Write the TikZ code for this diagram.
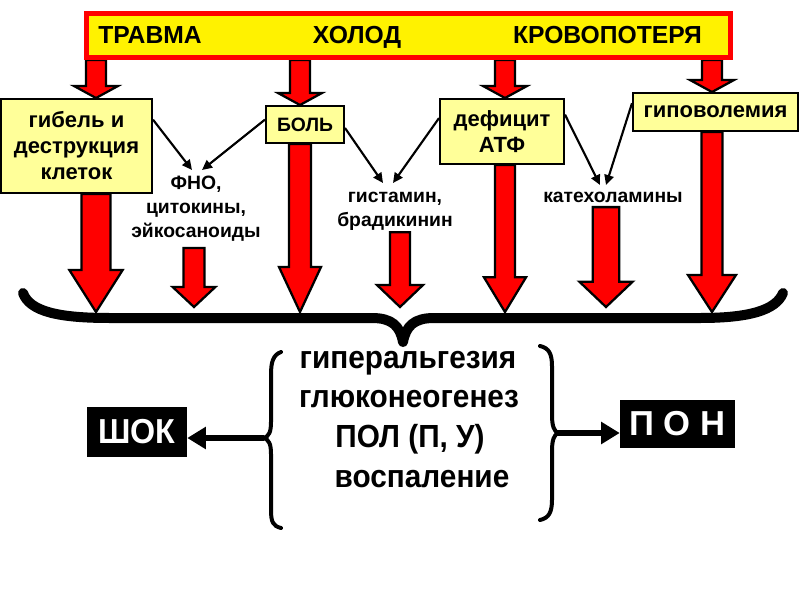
\documentclass[tikz,border=0pt]{standalone}
\usepackage{fontspec}
\setmainfont{Liberation Sans}
\newfontfamily\narrowfont{Liberation Sans}[FakeStretch=0.93]
\usetikzlibrary{arrows.meta,calc,backgrounds}
\definecolor{paleyellow}{RGB}{255,255,153}

% block arrow: shaft half width, head half width, head length, from, to
\newcommand{\redarrow}[5]{%
  \filldraw[redarrow] let \p1=(#4), \p2=(#5) in
    (\x2-#1,\y1) -- (\x2-#1,\y2+#3) -- (\x2-#2,\y2+#3) -- (\x2,\y2)
    -- (\x2+#2,\y2+#3) -- (\x2+#1,\y2+#3) -- (\x2+#1,\y1) -- cycle;}

\begin{document}
\begin{tikzpicture}[x=0.75pt, y=-0.75pt,
  topbox/.style={draw=red, line width=3.75pt, fill=yellow,
    minimum width=483pt, minimum height=33pt},
  toptext/.style={font=\fontsize{18.5}{21}\selectfont\bfseries, inner sep=0pt},
  causebox/.style={draw=black, line width=1.5pt, fill=paleyellow, align=center,
    inner sep=0pt, font=\fontsize{16.5}{19.5}\selectfont\bfseries},
  mediator/.style={align=center, inner sep=0pt,
    font=\fontsize{14.5}{18}\selectfont\bfseries},
  effect/.style={inner sep=0pt, font=\narrowfont\fontsize{24}{30}\selectfont\bfseries},
  resultbox/.style={fill=black, text=white, inner sep=0pt},
  redarrow/.style={fill=red, draw=black, line width=1.7pt, line join=miter},
  thinarrow/.style={-{Triangle[length=7.5pt,width=7pt]}, line width=1.6pt},
  thickarrow/.style={-{Triangle[length=14pt,width=16pt]}, line width=4pt},
  bracket/.style={line cap=round, line join=round}]
  \useasboundingbox (0,0) rectangle (800,600);

  % causes
  \node[topbox] (top) at (408.5,35.5) {};
  \node[toptext, anchor=base] (trauma) at (150,43) {ТРАВМА};
  \node[toptext, anchor=base] (cold) at (357,43) {ХОЛОД};
  \node[toptext, anchor=base] (blood) at (607.5,43) {КРОВОПОТЕРЯ};

  \node[causebox, minimum width=113.25pt, minimum height=70.5pt] (death) at (76.5,146)
    {гибель и\\деструкция\\клеток};
  \node[causebox, minimum width=58.5pt, minimum height=27.75pt,
    font=\fontsize{14.5}{17}\selectfont\bfseries] (pain) at (305,124.5) {БОЛЬ};
  \node[causebox, minimum width=93pt, minimum height=48.75pt] (atp) at (502,131.5)
    {дефицит\\АТФ};
  \node[causebox, minimum width=123.75pt, minimum height=28.5pt] (hypo) at (715.5,112)
    {гиповолемия};

  % mediators
  \node[mediator, anchor=north] (cyto) at (196,176) {ФНО,\\цитокины,\\эйкосаноиды};
  \node[mediator, anchor=north] (hist) at (395,192) {гистамин,\\брадикинин};
  \node[mediator, anchor=north] (cat) at (613,192) {катехоламины};

  \coordinate (c1) at (96,0);
  \coordinate (c2) at (300,0);
  \coordinate (c3) at (505,0);
  \coordinate (c4) at (712,0);
  \coordinate (c5) at (194,0);
  \coordinate (c6) at (400,0);
  \coordinate (c7) at (606,0);
  \coordinate (tipl) at (0,312);
  \coordinate (tips) at (0,307);

  \begin{scope}[on background layer]
    \redarrow{7.5pt}{16.5pt}{9pt}{top.south -| c1}{death.north -| c1}
    \redarrow{7.5pt}{16.5pt}{9pt}{top.south -| c2}{pain.north -| c2}
    \redarrow{7.5pt}{16.5pt}{9pt}{top.south -| c3}{atp.north -| c3}
    \redarrow{7.5pt}{16.5pt}{9pt}{top.south -| c4}{hypo.north -| c4}
    \redarrow{10.9pt}{20pt}{31.5pt}{death.south -| c1}{c1 |- tipl}
    \redarrow{8.25pt}{15.75pt}{33.75pt}{pain.south -| c2}{c2 |- tipl}
    \redarrow{7.5pt}{15.75pt}{26pt}{atp.south -| c3}{c3 |- tipl}
    \redarrow{7.9pt}{18pt}{27.75pt}{hypo.south -| c4}{c4 |- tipl}
    \redarrow{7.9pt}{16pt}{15pt}{[yshift=-4.5pt]cyto.south -| c5}{c5 |- tips}
    \redarrow{7.5pt}{17.25pt}{16.5pt}{[yshift=-1pt]hist.south -| c6}{c6 |- tips}
    \redarrow{10pt}{20pt}{19pt}{[yshift=-3pt]cat.south -| c7}{c7 |- tips}
  \end{scope}

  \draw[thinarrow] (death.19) -- ([xshift=-3pt,yshift=4.5pt]cyto.north);
  \draw[thinarrow] (pain.173) -- ([xshift=4.5pt,yshift=4.5pt]cyto.north);
  \draw[thinarrow] (pain.-5) -- ([xshift=-9pt,yshift=6.75pt]hist.north);
  \draw[thinarrow] (atp.168) -- ([xshift=-1.5pt,yshift=6.75pt]hist.north);
  \draw[thinarrow] (atp.15) -- ([xshift=-9.75pt,yshift=5.25pt]cat.north);
  \draw[thinarrow] (hypo.174) -- ([xshift=-5.25pt,yshift=5.25pt]cat.north);

  % big brace
  \draw[bracket, line width=7.5pt] (23,293) .. controls (30,312) and (60,318) .. (110,318)
    -- (372,318) .. controls (392,318) and (400,326) .. (403,342)
    .. controls (406,326) and (414,318) .. (434,318) -- (700,318)
    .. controls (750,318) and (776,310) .. (783,293);

  % effects
  \node[effect, anchor=base] (e1) at (408,368) {гиперальгезия};
  \node[effect, anchor=base] (e2) at (409,407) {глюконеогенез};
  \node[effect, anchor=base] (e3) at (410,447) {ПОЛ (П, У)};
  \node[effect, anchor=base] (e4) at (422,487) {воспаление};

  \draw[bracket, line width=3pt] (281,352) .. controls (273,355) and (271,362) .. (271,375)
    -- (271,422) .. controls (271,432) and (269,436) .. (264,438)
    .. controls (269,440) and (271,444) .. (271,454) -- (271,510)
    .. controls (271,522) and (273,526) .. (281,528);
  \draw[bracket, line width=3pt] (540,346) .. controls (549,348) and (552,354) .. (552,366)
    -- (552,415) .. controls (552,426) and (554,431) .. (558,433)
    .. controls (554,435) and (552,440) .. (552,451) -- (552,500)
    .. controls (552,512) and (549,518) .. (540,520);
  \coordinate (lbt) at (264,438);
  \coordinate (rbt) at (558,433);

  % outcomes
  \node[resultbox, minimum width=75pt, minimum height=37.5pt,
    font=\narrowfont\fontsize{26}{26}\selectfont\bfseries] (shock) at (137,432) {ШОК};
  \node[resultbox, minimum width=86.25pt, minimum height=36pt,
    font=\fontsize{26}{26}\selectfont\bfseries] (pon) at (677.5,424) {П О Н};

  \draw[thickarrow] (lbt) -- (lbt -| shock.east);
  \draw[thickarrow] (rbt) -- (rbt -| pon.west);
\end{tikzpicture}
\end{document}
